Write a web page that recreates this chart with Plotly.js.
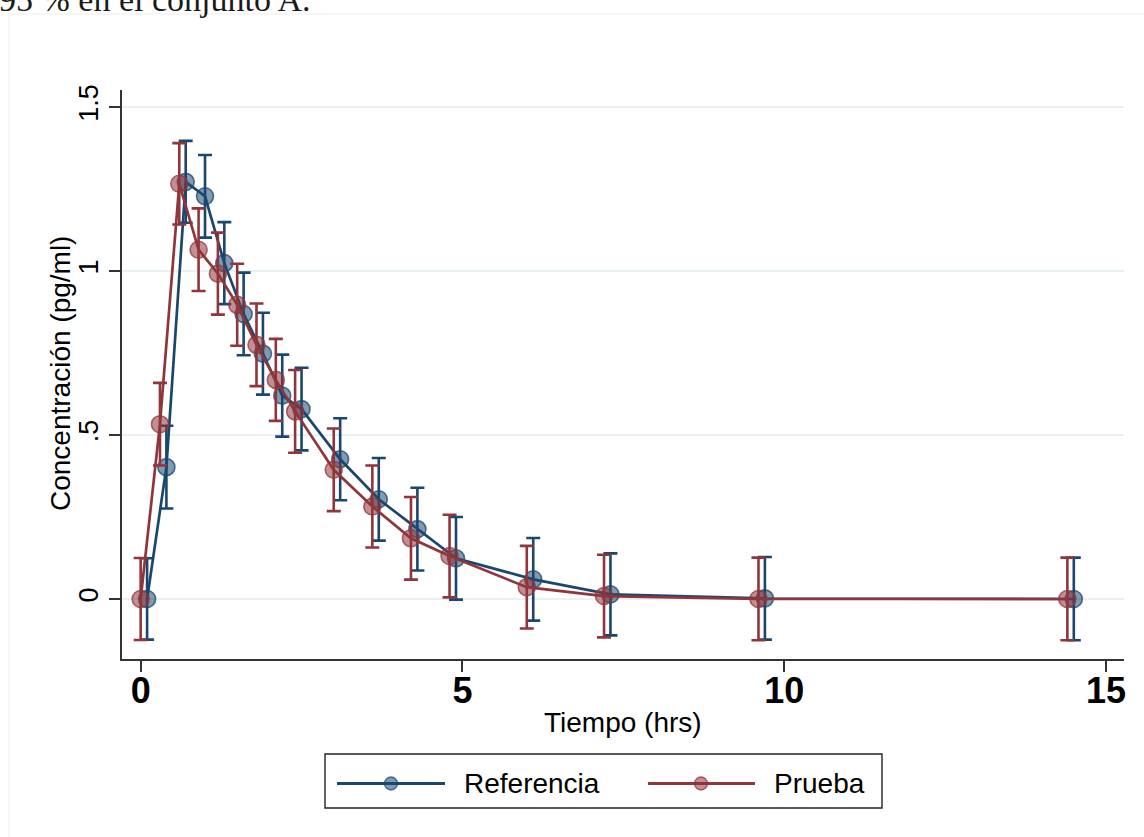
<!DOCTYPE html>
<html>
<head>
<meta charset="utf-8">
<script src="https://cdn.plot.ly/plotly-3.0.1.min.js"></script>
<style>
  html, body { margin: 0; padding: 0; background: #ffffff; }
  #chart { width: 1144px; height: 837px; }
</style>
</head>
<body>
<div id="chart"></div>
<script>
// Mean concentration over time for the two formulations, with error bars
const seriesNames = ['Referencia', 'Prueba'];

const refTime = [0.1, 0.4, 0.7, 1.0, 1.3, 1.6, 1.9, 2.2, 2.5, 3.1, 3.7, 4.3, 4.9, 6.1, 7.3, 9.7, 14.5];
const refConc = [0.000, 0.402, 1.272, 1.228, 1.024, 0.869, 0.748, 0.620, 0.579, 0.426, 0.304, 0.213, 0.124, 0.060, 0.014, 0.002, 0.000];
const refErr  = [0.124, 0.126, 0.125, 0.126, 0.125, 0.126, 0.125, 0.125, 0.126, 0.125, 0.126, 0.126, 0.126, 0.126, 0.125, 0.126, 0.126];

const testTime = [0.0, 0.3, 0.6, 0.9, 1.2, 1.5, 1.8, 2.1, 2.4, 3.0, 3.6, 4.2, 4.8, 6.0, 7.2, 9.6, 14.4];
const testConc = [0.000, 0.533, 1.266, 1.065, 0.992, 0.897, 0.775, 0.668, 0.572, 0.394, 0.282, 0.185, 0.131, 0.036, 0.009, 0.000, 0.000];
const testErr  = [0.125, 0.126, 0.124, 0.126, 0.125, 0.125, 0.126, 0.125, 0.126, 0.126, 0.125, 0.126, 0.126, 0.126, 0.126, 0.126, 0.126];

const xTickVals = [0, 5, 10, 15];
const xTickText = ['0', '5', '10', '15'];
const yTickVals = [0, 0.5, 1, 1.5];
const yTickText = ['0', '.5', '1', '1.5'];

const xTitle = 'Tiempo (hrs)';
const yTitle = 'Concentración (pg/ml)';

const BLUE = '#1a476f';
const RED = '#90353b';
const FONT = 'Liberation Sans, Arial, sans-serif';

function seriesTrace(name, x, y, err, color, rgb) {
  return {
    type: 'scatter',
    mode: 'lines+markers',
    name: name,
    x: x,
    y: y,
    showlegend: false,
    line: { color: color, width: 2.7 },
    marker: {
      size: 17,
      color: 'rgba(' + rgb + ',0.55)',
      line: { color: 'rgba(' + rgb + ',0.75)', width: 1.6 }
    },
    error_y: {
      type: 'data',
      array: err,
      symmetric: true,
      color: color,
      thickness: 2.6,
      width: 7
    },
    hoverinfo: 'x+y+name'
  };
}

const traces = [
  seriesTrace(seriesNames[0], refTime, refConc, refErr, BLUE, '26,71,111'),
  seriesTrace(seriesNames[1], testTime, testConc, testErr, RED, '144,53,59')
];

// plot-area geometry (pixels) used to place titles and the hand-built legend
const W = 1144, H = 837;
const M = { l: 122, r: 20, t: 90, b: 178 };
const pw = W - M.l - M.r, ph = H - M.t - M.b;
const px = v => (v - M.l) / pw;
const py = v => (H - M.b - v) / ph;

const legendY = py(783.5);
const legendItems = [
  { name: seriesNames[0], color: BLUE, rgb: '26,71,111', x0: 337, x1: 445, mx: 391, tx: 462 },
  { name: seriesNames[1], color: RED, rgb: '144,53,59', x0: 648, x1: 755, mx: 701, tx: 772 }
];

const shapes = [
  // faint outer frame of the graph region
  { type: 'line', xref: 'paper', yref: 'paper', x0: px(9), x1: px(1160), y0: py(14), y1: py(14),
    line: { color: '#eeeeee', width: 1 } },
  { type: 'line', xref: 'paper', yref: 'paper', x0: px(9), x1: px(9), y0: py(14), y1: py(850),
    line: { color: '#eeeeee', width: 1 } },
  // legend box
  { type: 'rect', xref: 'paper', yref: 'paper', x0: px(325), x1: px(882), y0: py(754), y1: py(808),
    line: { color: '#222222', width: 1.4 }, fillcolor: 'rgba(0,0,0,0)' }
];
const annotations = [
  // closing words of the preceding paragraph of the page
  { xref: 'paper', yref: 'paper', x: px(313), y: py(20), xanchor: 'right', yanchor: 'bottom',
    text: '95 % en el conjunto A.', showarrow: false,
    font: { family: 'Liberation Serif, Times New Roman, serif', size: 34, color: '#1a1a1a' } },
  // axis titles
  { xref: 'paper', yref: 'paper', x: px(623), y: py(722), xanchor: 'center', yanchor: 'middle',
    text: xTitle, showarrow: false, font: { family: FONT, size: 28, color: '#000000' } },
  { xref: 'paper', yref: 'paper', x: px(60), y: py(374), xanchor: 'center', yanchor: 'middle',
    textangle: -90, text: yTitle, showarrow: false, font: { family: FONT, size: 28, color: '#000000' } }
];
legendItems.forEach(it => {
  shapes.push({ type: 'line', xref: 'paper', yref: 'paper', x0: px(it.x0), x1: px(it.x1), y0: legendY, y1: legendY,
    line: { color: it.color, width: 3 } });
  shapes.push({ type: 'circle', xref: 'paper', yref: 'paper', xsizemode: 'pixel', ysizemode: 'pixel',
    xanchor: px(it.mx), yanchor: legendY, x0: -6.5, x1: 6.5, y0: -6.5, y1: 6.5,
    fillcolor: 'rgba(' + it.rgb + ',0.55)', line: { color: 'rgba(' + it.rgb + ',0.75)', width: 1.4 } });
  annotations.push({ xref: 'paper', yref: 'paper', x: px(it.tx), y: legendY, xanchor: 'left', yanchor: 'middle',
    text: it.name, showarrow: false, font: { family: FONT, size: 28, color: '#000000' } });
});

const layout = {
  width: W,
  height: H,
  margin: M,
  paper_bgcolor: '#ffffff',
  plot_bgcolor: '#ffffff',
  showlegend: false,
  font: { family: FONT, color: '#000000' },
  xaxis: {
    range: [-0.29, 15.28],
    tickmode: 'array',
    tickvals: xTickVals,
    ticktext: xTickText,
    ticks: 'outside',
    ticklen: 11,
    tickwidth: 1.5,
    tickcolor: '#333333',
    showline: true,
    linecolor: '#333333',
    linewidth: 1.8,
    showgrid: false,
    zeroline: false,
    ticklabelstandoff: -12,
    tickfont: { family: FONT, size: 36, color: '#000000', weight: 'bold' },
    automargin: false
  },
  yaxis: {
    range: [-0.183, 1.552],
    tickmode: 'array',
    tickvals: yTickVals,
    ticktext: yTickText,
    tickangle: -90,
    ticks: 'outside',
    ticklen: 11,
    tickwidth: 1.5,
    tickcolor: '#333333',
    showline: true,
    linecolor: '#333333',
    linewidth: 1.8,
    showgrid: true,
    gridcolor: '#e9f1f3',
    gridwidth: 1.8,
    zeroline: false,
    tickfont: { family: FONT, size: 27, color: '#000000' },
    automargin: false
  },
  shapes: shapes,
  annotations: annotations
};

Plotly.newPlot('chart', traces, layout, { displayModeBar: false, responsive: false });
</script>
</body>
</html>
